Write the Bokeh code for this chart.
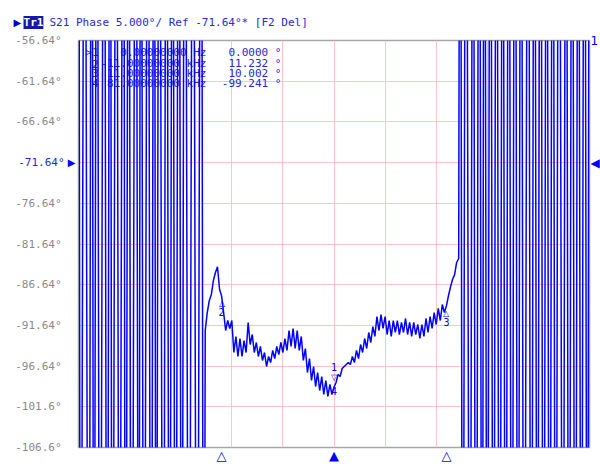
from bokeh.plotting import figure
from bokeh.models import Range1d, FixedTicker, Label, LinearAxis, ColumnDataSource
from bokeh.embed import file_html
from bokeh.resources import INLINE

# ---------------- data (read from the screen shot) ----------------
# sweep 56 .. 106 kHz (center 81 kHz, span 50 kHz), S21 phase in degrees
x_grid_khz = [56, 61, 66, 71, 76, 81, 86, 91, 96, 101, 106]
y_ticks = [-106.64, -101.64, -96.64, -91.64, -86.64, -81.64, -76.64, -71.64, -66.64, -61.64, -56.64]
y_tick_labels = ["-106.6°", "-101.6°", "-96.64°", "-91.64°", "-86.64°", "-81.64°",
                 "-76.64°", "-71.64°", "-66.64°", "-61.64°", "-56.64°"]
ref_value = -71.64

# phase wrapping (no signal) below the pass band
left_wrap_khz = [56.0, 56.2, 56.6, 57.0, 57.3, 57.5, 57.8, 58.1, 58.5, 58.8,
                 59.1, 59.3, 59.7, 60.0, 60.4, 60.6, 60.9, 61.2, 61.6, 61.9,
                 62.1, 62.4, 62.8, 63.1, 63.4, 63.6, 63.9, 64.3, 64.6, 64.9,
                 65.2, 65.5, 65.8, 66.1, 66.4, 66.8, 67.2, 67.6, 68.0, 68.25]
left_wrap_deg = [12, -174, 8, -178, 15, -170, 6, -176, 11, -172,
                 14, -179, 9, -168, 13, -175, 5, -177, 10, -171,
                 16, -173, 7, -180, 12, -169, 9, -176, 14, -172,
                 6, -178, 11, -170, 15, -174, 8, -177, 13, -175]

# measured phase inside the pass band
band_khz = [68.4, 68.6, 68.8, 69.0, 69.2, 69.4, 69.6, 69.8, 70.0, 70.2,
            70.4, 70.6, 70.8, 71.0, 71.2, 71.4, 71.6, 71.8, 72.0, 72.2,
            72.4, 72.6, 72.8, 73.0, 73.2, 73.4, 73.6, 73.8, 74.0, 74.2,
            74.4, 74.6, 74.8, 75.0, 75.2, 75.4, 75.6, 75.8, 76.0, 76.2,
            76.4, 76.6, 76.8, 77.0, 77.2, 77.4, 77.6, 77.8, 78.0, 78.2,
            78.4, 78.6, 78.8, 79.0, 79.2, 79.4, 79.6, 79.8, 80.0, 80.2,
            80.4, 80.6, 80.8, 81.0, 81.2, 81.4, 81.6, 81.8, 82.0, 82.2,
            82.4, 82.6, 82.8, 83.0, 83.2, 83.4, 83.6, 83.8, 84.0, 84.2,
            84.4, 84.6, 84.8, 85.0, 85.2, 85.4, 85.6, 85.8, 86.0, 86.2,
            86.4, 86.6, 86.8, 87.0, 87.2, 87.4, 87.6, 87.8, 88.0, 88.2,
            88.4, 88.6, 88.8, 89.0, 89.2, 89.4, 89.6, 89.8, 90.0, 90.2,
            90.4, 90.6, 90.8, 91.0, 91.2, 91.4, 91.6, 91.8, 92.0, 92.2,
            92.4, 92.6, 92.8, 93.0, 93.2]
band_deg = [-92.27, -90.06, -88.58, -87.84, -86.12, -85.14, -84.45, -87.20, -88.01, -90.06,
            -92.27, -91.04, -92.02, -91.04, -94.97, -93.00, -95.46, -93.25, -95.46, -93.50,
            -94.97, -91.28, -93.99, -92.76, -94.97, -93.74, -95.46, -94.23, -95.95, -94.97,
            -96.69, -95.46, -96.20, -94.72, -95.71, -94.23, -95.22, -93.74, -94.97, -93.25,
            -94.72, -92.27, -94.23, -92.02, -94.48, -92.27, -94.72, -93.00, -95.95, -94.48,
            -97.43, -95.71, -98.41, -96.69, -99.15, -97.43, -99.64, -97.92, -100.13, -98.41,
            -100.37, -98.90, -100.13, -99.24, -98.66, -97.67, -97.92, -96.94, -96.69, -96.44,
            -96.20, -96.44, -95.46, -96.20, -94.72, -95.71, -93.99, -94.97, -93.25, -94.48,
            -92.51, -93.74, -91.78, -93.00, -90.55, -92.27, -90.30, -92.02, -90.55, -92.76,
            -91.04, -93.00, -91.04, -92.51, -91.04, -92.76, -91.28, -92.51, -90.79, -92.76,
            -91.28, -93.00, -91.28, -92.76, -91.53, -93.25, -91.53, -93.00, -90.79, -92.51,
            -90.55, -92.02, -90.06, -91.53, -89.56, -91.04, -89.07, -90.06, -89.24, -88.00,
            -86.90, -86.00, -85.40, -83.91, -83.42]

# phase wrapping above the pass band
right_wrap_khz = [93.35, 93.6, 93.9, 94.3, 94.6, 94.9, 95.2, 95.5, 95.7, 96.0,
                  96.3, 96.6, 96.9, 97.2, 97.5, 97.8, 98.1, 98.4, 98.7, 99.0,
                  99.3, 99.6, 100.0, 100.3, 100.6, 100.9, 101.2, 101.5, 101.8, 102.1,
                  102.4, 102.7, 103.0, 103.4, 103.7, 104.0, 104.3, 104.6, 104.9, 105.2,
                  105.5, 105.8, 106.0]
right_wrap_deg = [10, -176, 14, -171, 7, -178, 12, -173, 16, -169,
                  9, -175, 13, -180, 6, -172, 11, -177, 15, -170,
                  8, -174, 12, -179, 10, -168, 14, -176, 5, -173,
                  11, -177, 16, -171, 9, -175, 13, -178, 7, -170,
                  12, -174, 10]

# markers
marker_ids = ["1", "2", "3", "4"]
marker_khz = [81.0, 70.0, 92.0, 81.0]
marker_deg = [-99.241, -88.009, -89.239, -99.241]
marker_arrows = {70.0: "△", 81.0: "▲", 92.0: "△"}
table_ids = [">1", "2", "3", "4"]
table_freq = ["0.00000000 Hz", "-11.00000000 kHz", "11.00000000 kHz", "81.00000000 kHz"]
table_value = ["0.0000 °", "11.232 °", "10.002 °", "-99.241 °"]
trace_name = "Tr1"
header_text = "S21 Phase 5.000°/ Ref -71.64°* [F2 Del]"

# ---------------- styling ----------------
TRACE = "#0000ff"
TEXTBLUE = "#2727d8"
GRAY = "#8a8a8a"
MONO = "DejaVu Sans Mono"

x0, x1 = x_grid_khz[0], x_grid_khz[-1]
y0, y1 = y_ticks[0], y_ticks[-1]

p = figure(x_range=Range1d(x0, x1), y_range=Range1d(y0, y1),
           frame_width=511, frame_height=407,
           min_border_left=78, min_border_right=9, min_border_top=40, min_border_bottom=26,
           output_backend="svg", toolbar_location=None,
           background_fill_color="white", border_fill_color="white")

p.outline_line_color = "#a6a6a6"
p.outline_line_width = 1.5

# bottom axis: marker arrows only
p.xaxis.ticker = FixedTicker(ticks=list(marker_arrows.keys()))
p.xaxis.major_label_overrides = marker_arrows
p.xaxis.axis_line_color = None
p.xaxis.major_tick_line_color = None
p.xaxis.minor_tick_line_color = None
p.xaxis.major_tick_out = 0
p.xaxis.major_tick_in = 0
p.xaxis.major_label_standoff = 0
p.xaxis.major_label_text_font = "DejaVu Sans"
p.xaxis.major_label_text_font_size = "13px"
p.xaxis.major_label_text_color = TRACE

p.xgrid.ticker = FixedTicker(ticks=x_grid_khz)
p.xgrid.grid_line_color = "#ffc4c4"
p.xgrid.grid_line_width = 1
p.ygrid.ticker = FixedTicker(ticks=y_ticks)
p.ygrid.grid_line_color = "#ffc4c4"
p.ygrid.grid_line_width = 1

# inner left axis: reference-level arrow
p.yaxis.ticker = FixedTicker(ticks=[ref_value])
p.yaxis.major_label_overrides = {ref_value: "▶"}
p.yaxis.axis_line_color = None
p.yaxis.major_tick_line_color = None
p.yaxis.minor_tick_line_color = None
p.yaxis.major_tick_out = 0
p.yaxis.major_tick_in = 0
p.yaxis.major_label_standoff = 3
p.yaxis.major_label_text_font = "DejaVu Sans"
p.yaxis.major_label_text_font_size = "10px"
p.yaxis.major_label_text_color = TRACE

# outer left axis: scale values
overrides = {t: l for t, l in zip(y_ticks, y_tick_labels)}
overrides[ref_value] = ""
left_ax = LinearAxis(ticker=FixedTicker(ticks=y_ticks), major_label_overrides=overrides,
                     axis_line_color=None, major_tick_line_color=None, minor_tick_line_color=None,
                     major_tick_out=0, major_tick_in=0, major_label_standoff=3,
                     major_label_text_font=MONO, major_label_text_font_size="11px",
                     major_label_text_color=GRAY)
p.add_layout(left_ax, "left")

# right axis: reference arrow and trace number
right_ax = LinearAxis(ticker=FixedTicker(ticks=[y1, ref_value]),
                      major_label_overrides={y1: "1", ref_value: "◀"},
                      axis_line_color=None, major_tick_line_color=None, minor_tick_line_color=None,
                      major_tick_out=0, major_tick_in=0, major_label_standoff=1,
                      major_label_text_font="DejaVu Sans", major_label_text_font_size="12px",
                      major_label_text_color=TRACE)
p.add_layout(right_ax, "right")

# header and reference value (placed in side panels so they are not clipped)
p.add_layout(Label(x=49.64, y=-54.43, text="▶", text_align="left", text_baseline="middle",
                   text_font="DejaVu Sans", text_font_size="10px", text_color="#0000c8"), "left")
p.add_layout(Label(x=53.16, y=-54.43, text=header_text, text_align="left", text_baseline="middle",
                   text_font=MONO, text_font_size="11px", text_color=TEXTBLUE), "above")
p.add_layout(Label(x=50.62, y=-54.43, text=trace_name, text_align="left", text_baseline="middle",
                   text_font=MONO, text_font_size="11px", text_font_style="bold",
                   text_color="white", background_fill_color="#1818a8"), "above")
p.add_layout(Label(x=54.63, y=ref_value, text="-71.64°", text_align="right", text_baseline="middle",
                   text_font=MONO, text_font_size="11px", text_color=TEXTBLUE), "above")

# marker table (drawn beneath the trace)
row_deg = [-58.11, -59.47, -60.69, -61.92]
for i in range(len(table_ids)):
    for txt, xx in ((table_ids[i], 57.96), (table_freq[i], 68.52), (table_value[i], 75.86)):
        p.add_layout(Label(x=xx, y=row_deg[i], text=txt, text_align="right",
                           text_baseline="middle", text_font=MONO,
                           text_font_size="11px", text_color=TEXTBLUE, level="underlay"))

# trace
trace_khz = left_wrap_khz + band_khz + right_wrap_khz
trace_deg = left_wrap_deg + band_deg + right_wrap_deg
src = ColumnDataSource(dict(f=trace_khz, ph=trace_deg))
p.line("f", "ph", source=src, line_color=TRACE, line_width=1.5)

# markers on trace
for mid, mf, md in zip(marker_ids, marker_khz, marker_deg):
    if mid == "1":
        p.add_layout(Label(x=mf, y=md + 1.2, text="▽", text_align="center", text_baseline="middle",
                           text_font_size="8px", text_color=TRACE))
        p.add_layout(Label(x=mf, y=md + 2.5, text=mid, text_align="center", text_baseline="middle",
                           text_font=MONO, text_font_size="10px", text_color=TRACE))
    elif mid == "4":
        p.add_layout(Label(x=mf, y=md - 0.5, text=mid, text_align="center", text_baseline="middle",
                           text_font=MONO, text_font_size="10px", text_color=TRACE))
    else:
        p.add_layout(Label(x=mf, y=md - 0.9, text="△", text_align="center", text_baseline="middle",
                           text_font_size="8px", text_color=TRACE))
        p.add_layout(Label(x=mf, y=md - 2.0, text=mid, text_align="center", text_baseline="middle",
                           text_font=MONO, text_font_size="10px", text_color=TRACE))

open("out.html", "w").write(file_html(p, INLINE))
